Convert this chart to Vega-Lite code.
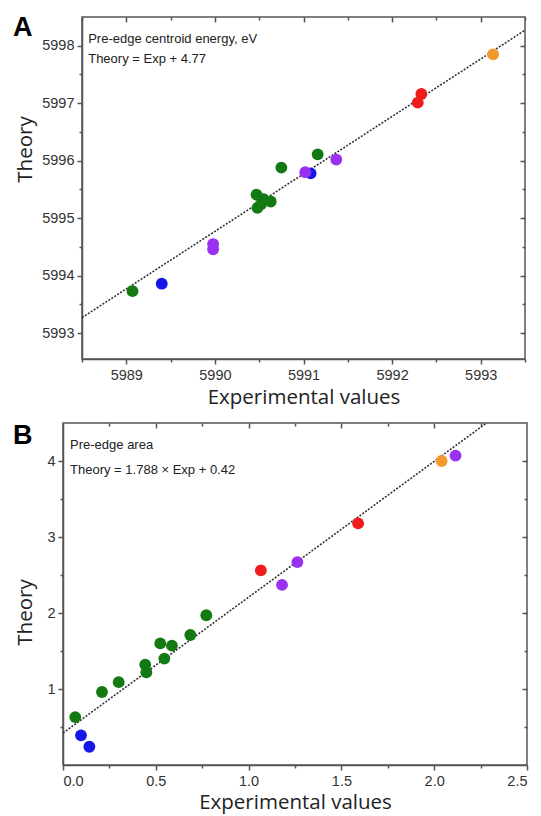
{
  "$schema": "https://vega.github.io/schema/vega-lite/v6.json",
  "padding": {"left": 12, "top": 13, "right": 0, "bottom": 0},
  "background": "white",
  "spacing": 10,
  "config": {
    "font": "Liberation Sans",
    "view": {"stroke": "#555", "strokeWidth": 1.5},
    "axis": {
      "grid": false,
      "domainColor": "#555",
      "domainWidth": 1.5,
      "tickColor": "#555",
      "tickWidth": 1.5,
      "labelColor": "#333",
      "labelFontSize": 14.5,
      "labelFont": "Liberation Sans",
      "labelPadding": 3,
      "titleFont": "Open Sans",
      "titleFontSize": 20.5,
      "titleFontWeight": "normal",
      "titleColor": "#222"
    }
  },
  "datasets": {
    "ptsA": [
      {"x": 5989.07, "y": 5993.73, "g": "green"},
      {"x": 5990.75, "y": 5995.88, "g": "green"},
      {"x": 5991.16, "y": 5996.11, "g": "green"},
      {"x": 5990.47, "y": 5995.41, "g": "green"},
      {"x": 5990.55, "y": 5995.33, "g": "green"},
      {"x": 5990.63, "y": 5995.29, "g": "green"},
      {"x": 5990.48, "y": 5995.18, "g": "green"},
      {"x": 5990.52, "y": 5995.24, "g": "green"},
      {"x": 5989.40, "y": 5993.86, "g": "blue"},
      {"x": 5991.08, "y": 5995.78, "g": "blue"},
      {"x": 5989.98, "y": 5994.55, "g": "purple"},
      {"x": 5989.98, "y": 5994.46, "g": "purple"},
      {"x": 5991.02, "y": 5995.80, "g": "purple"},
      {"x": 5991.37, "y": 5996.02, "g": "purple"},
      {"x": 5992.33, "y": 5997.16, "g": "red"},
      {"x": 5992.29, "y": 5997.01, "g": "red"},
      {"x": 5993.14, "y": 5997.85, "g": "orange"}
    ],
    "ptsB": [
      {"x": 0.066, "y": 0.63, "g": "green"},
      {"x": 0.21, "y": 0.96, "g": "green"},
      {"x": 0.30, "y": 1.09, "g": "green"},
      {"x": 0.443, "y": 1.32, "g": "green"},
      {"x": 0.449, "y": 1.22, "g": "green"},
      {"x": 0.524, "y": 1.60, "g": "green"},
      {"x": 0.546, "y": 1.40, "g": "green"},
      {"x": 0.587, "y": 1.57, "g": "green"},
      {"x": 0.686, "y": 1.71, "g": "green"},
      {"x": 0.772, "y": 1.97, "g": "green"},
      {"x": 0.097, "y": 0.39, "g": "blue"},
      {"x": 0.142, "y": 0.24, "g": "blue"},
      {"x": 1.066, "y": 2.56, "g": "red"},
      {"x": 1.59, "y": 3.18, "g": "red"},
      {"x": 1.18, "y": 2.37, "g": "purple"},
      {"x": 1.263, "y": 2.67, "g": "purple"},
      {"x": 2.115, "y": 4.07, "g": "purple"},
      {"x": 2.04, "y": 4.0, "g": "orange"}
    ],
    "fitA": [
      {"x": 5988.5, "y": 5993.27},
      {"x": 5993.5, "y": 5998.27}
    ],
    "fitB": [
      {"x": 0, "y": 0.42},
      {"x": 2.282, "y": 4.5}
    ]
  },
  "vconcat": [
    {
      "hconcat": [
        {
          "width": 1,
          "height": 342,
          "view": {"stroke": null},
          "data": {"values": [{}]},
          "mark": {"type": "point", "opacity": 0},
          "encoding": {}
        },
        {
          "width": 443,
          "height": 342,
          "title": {"text": "A", "anchor": "start", "frame": "bounds", "orient": "top", "fontSize": 27, "fontWeight": "bold", "font": "Liberation Sans", "color": "#000", "baseline": "top", "offset": -26, "dx": -2},
          "resolve": {"axis": {"x": "independent", "y": "independent"}},
          "layer": [
            {
              "data": {"name": "fitA"},
              "mark": {"type": "line", "strokeDash": [2, 1.5], "strokeWidth": 1.6, "color": "#333"},
              "encoding": {
                "x": {"field": "x", "type": "quantitative", "title": "Experimental values",
                  "scale": {"domain": [5988.5, 5993.5], "nice": false, "zero": false},
                  "axis": {"orient": "bottom", "values": [5988.5, 5989, 5989.5, 5990, 5990.5, 5991, 5991.5, 5992, 5992.5, 5993, 5993.5],
                    "labelExpr": "datum.value % 1 === 0 ? format(datum.value, 'd') : ''",
                    "tickSize": {"condition": {"test": "datum.value % 1 !== 0", "value": 3}, "value": 5},
                    "labelPadding": 4, "titlePadding": 6}},
                "y": {"field": "y", "type": "quantitative", "title": "Theory",
                  "scale": {"domain": [5992.55, 5998.5], "nice": false, "zero": false},
                  "axis": {"orient": "left", "values": [5993, 5993.5, 5994, 5994.5, 5995, 5995.5, 5996, 5996.5, 5997, 5997.5, 5998],
                    "labelExpr": "datum.value % 1 === 0 ? format(datum.value, 'd') : ''",
                    "tickSize": {"condition": {"test": "datum.value % 1 !== 0", "value": 3}, "value": 5},
                    "minExtent": 43, "maxExtent": 43, "titlePadding": 4, "titleY": 132}}
              }
            },
            {
              "data": {"name": "fitA"},
              "mark": {"type": "line", "strokeOpacity": 0},
              "encoding": {
                "x": {"field": "x", "type": "quantitative",
                  "scale": {"domain": [5988.5, 5993.5], "nice": false, "zero": false},
                  "axis": {"orient": "top", "title": null, "labels": false, "domain": false, "values": [5988.5, 5989, 5989.5, 5990, 5990.5, 5991, 5991.5, 5992, 5992.5, 5993, 5993.5],
                    "tickSize": {"condition": {"test": "datum.value % 1 !== 0", "value": -3}, "value": -5}}},
                "y": {"field": "y", "type": "quantitative",
                  "scale": {"domain": [5992.55, 5998.5], "nice": false, "zero": false},
                  "axis": {"orient": "right", "title": null, "labels": false, "domain": false, "values": [5993, 5993.5, 5994, 5994.5, 5995, 5995.5, 5996, 5996.5, 5997, 5997.5, 5998],
                    "tickSize": {"condition": {"test": "datum.value % 1 !== 0", "value": -3}, "value": -5}}}
              }
            },
            {
              "data": {"name": "ptsA"},
              "mark": {"type": "circle", "size": 140, "opacity": 1},
              "encoding": {
                "x": {"field": "x", "type": "quantitative", "scale": {"domain": [5988.5, 5993.5], "nice": false, "zero": false}, "axis": null},
                "y": {"field": "y", "type": "quantitative", "scale": {"domain": [5992.55, 5998.5], "nice": false, "zero": false}, "axis": null},
                "color": {"field": "g", "type": "nominal", "legend": null,
                  "scale": {"domain": ["green", "blue", "purple", "red", "orange"], "range": ["#137a13", "#1616e8", "#9a30f0", "#ee1c1c", "#f39a2e"]}}
              }
            },
            {
              "data": {"values": [{}]},
              "mark": {"type": "text", "align": "left", "baseline": "middle", "fontSize": 13, "color": "#222"},
              "encoding": {
                "x": {"datum": 5988.57, "type": "quantitative", "scale": {"domain": [5988.5, 5993.5], "nice": false, "zero": false}, "axis": null},
                "y": {"datum": 5998.12, "type": "quantitative", "scale": {"domain": [5992.55, 5998.5], "nice": false, "zero": false}, "axis": null},
                "text": {"value": "Pre-edge centroid energy, eV"}
              }
            },
            {
              "data": {"values": [{}]},
              "mark": {"type": "text", "align": "left", "baseline": "middle", "fontSize": 13, "color": "#222"},
              "encoding": {
                "x": {"datum": 5988.57, "type": "quantitative", "scale": {"domain": [5988.5, 5993.5], "nice": false, "zero": false}, "axis": null},
                "y": {"datum": 5997.77, "type": "quantitative", "scale": {"domain": [5992.55, 5998.5], "nice": false, "zero": false}, "axis": null},
                "text": {"value": "Theory = Exp + 4.77"}
              }
            }
          ]
        }
      ],
      "spacing": 18,
      "bounds": "flush"
    },
    {
      "width": 464,
      "height": 342,
      "title": {"text": "B", "anchor": "start", "frame": "bounds", "orient": "top", "fontSize": 27, "fontWeight": "bold", "font": "Liberation Sans", "color": "#000", "baseline": "top", "offset": -30, "dx": -2},
      "resolve": {"axis": {"x": "independent", "y": "independent"}},
      "layer": [
        {
          "data": {"name": "fitB"},
          "mark": {"type": "line", "strokeDash": [2, 1.5], "strokeWidth": 1.6, "color": "#333"},
          "encoding": {
            "x": {"field": "x", "type": "quantitative", "title": "Experimental values",
              "scale": {"domain": [0, 2.5], "nice": false, "zero": false},
              "axis": {"orient": "bottom", "values": [0, 0.25, 0.5, 0.75, 1, 1.25, 1.5, 1.75, 2, 2.25, 2.5],
                "labelExpr": "datum.value % 0.5 === 0 ? format(datum.value, '.1f') : ''",
                "tickSize": {"condition": {"test": "datum.value % 0.5 !== 0", "value": 3}, "value": 5},
                "labelPadding": 4, "titlePadding": 5}},
            "y": {"field": "y", "type": "quantitative", "title": "Theory",
              "scale": {"domain": [0, 4.5], "nice": false, "zero": false},
              "axis": {"orient": "left", "values": [0.5, 1, 1.5, 2, 2.5, 3, 3.5, 4],
                "labelExpr": "datum.value % 1 === 0 ? format(datum.value, 'd') : ''",
                "tickSize": {"condition": {"test": "datum.value % 1 !== 0", "value": 3}, "value": 5},
                "minExtent": 24, "maxExtent": 24, "titlePadding": 4, "titleY": 189}}
          }
        },
        {
          "data": {"name": "fitB"},
          "mark": {"type": "line", "strokeOpacity": 0},
          "encoding": {
            "x": {"field": "x", "type": "quantitative",
              "scale": {"domain": [0, 2.5], "nice": false, "zero": false},
              "axis": {"orient": "top", "title": null, "labels": false, "domain": false, "values": [0.25, 0.5, 0.75, 1, 1.25, 1.5, 1.75, 2, 2.25],
                "tickSize": {"condition": {"test": "datum.value % 0.5 !== 0", "value": -3}, "value": -5}}},
            "y": {"field": "y", "type": "quantitative",
              "scale": {"domain": [0, 4.5], "nice": false, "zero": false},
              "axis": {"orient": "right", "title": null, "labels": false, "domain": false, "values": [0.5, 1, 1.5, 2, 2.5, 3, 3.5, 4],
                "tickSize": {"condition": {"test": "datum.value % 1 !== 0", "value": -3}, "value": -5}}}
          }
        },
        {
          "data": {"name": "ptsB"},
          "mark": {"type": "circle", "size": 140, "opacity": 1},
          "encoding": {
            "x": {"field": "x", "type": "quantitative", "scale": {"domain": [0, 2.5], "nice": false, "zero": false}, "axis": null},
            "y": {"field": "y", "type": "quantitative", "scale": {"domain": [0, 4.5], "nice": false, "zero": false}, "axis": null},
            "color": {"field": "g", "type": "nominal", "legend": null,
              "scale": {"domain": ["green", "blue", "purple", "red", "orange"], "range": ["#137a13", "#1616e8", "#9a30f0", "#ee1c1c", "#f39a2e"]}}
          }
        },
        {
          "data": {"values": [{}]},
          "mark": {"type": "text", "align": "left", "baseline": "middle", "fontSize": 13, "color": "#222"},
          "encoding": {
            "x": {"datum": 0.038, "type": "quantitative", "scale": {"domain": [0, 2.5], "nice": false, "zero": false}, "axis": null},
            "y": {"datum": 4.21, "type": "quantitative", "scale": {"domain": [0, 4.5], "nice": false, "zero": false}, "axis": null},
            "text": {"value": "Pre-edge area"}
          }
        },
        {
          "data": {"values": [{}]},
          "mark": {"type": "text", "align": "left", "baseline": "middle", "fontSize": 13, "color": "#222"},
          "encoding": {
            "x": {"datum": 0.038, "type": "quantitative", "scale": {"domain": [0, 2.5], "nice": false, "zero": false}, "axis": null},
            "y": {"datum": 3.88, "type": "quantitative", "scale": {"domain": [0, 4.5], "nice": false, "zero": false}, "axis": null},
            "text": {"value": "Theory = 1.788 × Exp + 0.42"}
          }
        }
      ]
    }
  ]
}
